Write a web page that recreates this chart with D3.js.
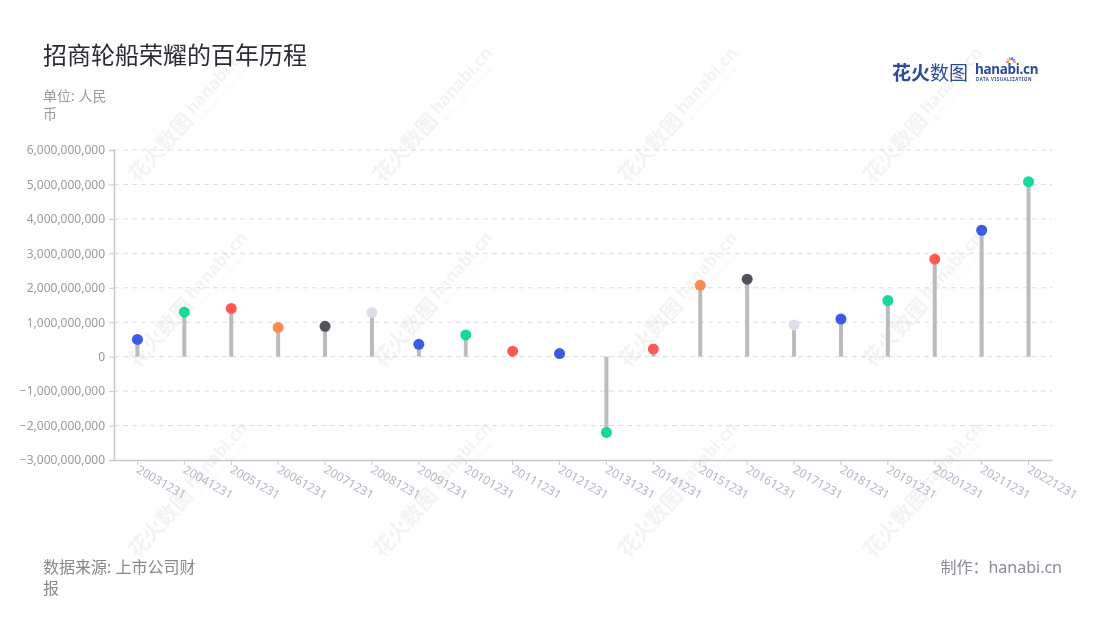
<!DOCTYPE html>
<html><head><meta charset="utf-8">
<script src="https://cdn.jsdelivr.net/npm/d3@7"></script>
<style>
body{margin:0;background:#fff;}
text{font-family:"Noto Sans","Noto Sans CJK SC",sans-serif;}
</style></head>
<body><svg id="chart" width="1100" height="620"></svg>
<script>
const categories = ["20031231","20041231","20051231","20061231","20071231","20081231","20091231","20101231","20111231","20121231","20131231","20141231","20151231","20161231","20171231","20181231","20191231","20201231","20211231","20221231"];
const values = [0.50e9,1.29e9,1.40e9,0.85e9,0.88e9,1.28e9,0.36e9,0.63e9,0.16e9,0.09e9,-2.20e9,0.22e9,2.07e9,2.25e9,0.92e9,1.09e9,1.63e9,2.83e9,3.67e9,5.08e9];
const dotColors = ["#3a5ae8","#14d99b","#ff5a52","#ff8c4f","#51525b","#dcdfe8","#3a5ae8","#14d99b","#ff5a52","#3a5ae8","#14d99b","#ff5a52","#ff8c4f","#51525b","#dcdfe8","#3a5ae8","#14d99b","#ff5a52","#3a5ae8","#14d99b"];
const yTicks = [-3e9,-2e9,-1e9,0,1e9,2e9,3e9,4e9,5e9,6e9];

const svg = d3.select("#chart");
const L = 114, R = 1052, T = 150, B = 460;

// watermarks
const wmX = [180,425,670,915], wmY = [125,310,500];
const wm = svg.append("g").attr("opacity",0.4);
wmY.forEach(cy=>wmX.forEach(cx=>{
  const g = wm.append("g").attr("transform",`translate(${cx},${cy}) rotate(-48)`);
  g.append("text").attr("x",-72).attr("y",8).attr("font-size",21).attr("font-weight",700)
   .attr("font-family","Noto Sans CJK SC").attr("fill","#e2e2e2").text("花火数图");
  g.append("text").attr("x",16).attr("y",3).attr("font-size",17).attr("font-weight",700)
   .attr("fill","#e2e2e2").text("hanabi.cn");
  g.append("text").attr("x",18).attr("y",13).attr("font-size",5).attr("letter-spacing",1)
   .attr("fill","#e2e2e2").text("DATA VISUALIZATION");
}));

const x = d3.scaleBand().domain(categories).range([L,R]).padding(0);
const y = d3.scaleLinear().domain([-3e9,6e9]).range([B,T]);

// grid
svg.append("g").selectAll("line").data(yTicks.filter(t=>t!==-3e9)).join("line")
  .attr("x1",L).attr("x2",R).attr("y1",d=>y(d)).attr("y2",d=>y(d))
  .attr("stroke","#dcdcdc").attr("stroke-dasharray","5,4").attr("stroke-width",1);

// y axis
const yAxis = svg.append("g").attr("transform",`translate(${L},0)`)
  .call(d3.axisLeft(y).tickValues(yTicks).tickSize(5).tickPadding(4).tickFormat(d3.format(",")));
yAxis.select(".domain").attr("stroke","#c8c8c8").attr("stroke-width",1.5);
yAxis.selectAll(".tick line").attr("stroke","#c8c8c8");
yAxis.selectAll(".tick text").attr("fill","#9a9a9a").attr("font-size",12)
  .attr("font-family","Noto Sans, sans-serif");

// x axis
const xAxis = svg.append("g").attr("transform",`translate(0,${B})`)
  .call(d3.axisBottom(x).tickSize(5).tickSizeOuter(0));
xAxis.select(".domain").attr("stroke","#c8c8c8").attr("stroke-width",1.5);
xAxis.selectAll(".tick line").attr("stroke","#c8c8c8");
xAxis.selectAll(".tick text").attr("fill","#b3b7c6").attr("font-size",12)
  .attr("text-anchor","start").attr("dy",0).attr("y",0).attr("x",0)
  .attr("transform","translate(-2,12) rotate(30)");

// stems
svg.append("g").selectAll("line").data(values).join("line")
  .attr("x1",(d,i)=>x(categories[i])+x.bandwidth()/2)
  .attr("x2",(d,i)=>x(categories[i])+x.bandwidth()/2)
  .attr("y1",y(0)).attr("y2",d=>y(d))
  .attr("stroke","#bbbbbb").attr("stroke-width",4);

// dots
svg.append("g").selectAll("circle").data(values).join("circle")
  .attr("cx",(d,i)=>x(categories[i])+x.bandwidth()/2)
  .attr("cy",d=>y(d)).attr("r",5.5)
  .attr("fill",(d,i)=>dotColors[i]);

// title & texts
svg.append("text").attr("x",43).attr("y",64).attr("font-size",24).attr("fill","#2b2b33")
  .attr("font-family","Noto Sans CJK SC").text("招商轮船荣耀的百年历程");
svg.append("text").attr("x",43).attr("y",101).attr("font-size",14).attr("fill","#999")
  .attr("font-family","Noto Sans CJK SC").text("单位: 人民");
svg.append("text").attr("x",43).attr("y",119).attr("font-size",14).attr("fill","#999")
  .attr("font-family","Noto Sans CJK SC").text("币");
svg.append("text").attr("x",43).attr("y",573).attr("font-size",16).attr("fill","#888")
  .attr("font-family","Noto Sans CJK SC").text("数据来源: 上市公司财");
svg.append("text").attr("x",43).attr("y",594).attr("font-size",16).attr("fill","#888")
  .attr("font-family","Noto Sans CJK SC").text("报");
svg.append("text").attr("x",1062).attr("y",573).attr("font-size",16).attr("fill","#8a8a98")
  .attr("text-anchor","end").attr("font-family","Noto Sans CJK SC").text("制作：hanabi.cn");

// logo
const lg = svg.append("g");
lg.append("text").attr("x",892).attr("y",80).attr("font-size",19).attr("font-weight",700)
  .attr("fill","#2c4b9c").attr("font-family","Noto Sans CJK SC").text("花火");
lg.append("text").attr("x",930).attr("y",80).attr("font-size",19).attr("font-weight",400)
  .attr("fill","#2c4b9c").attr("font-family","Noto Sans CJK SC").text("数图");
lg.append("text").attr("x",975).attr("y",74).attr("font-size",13.5).attr("font-weight",700)
  .attr("fill","#2c4b9c").attr("letter-spacing",-0.3).text("hanabi.cn");
lg.append("text").attr("x",976).attr("y",81).attr("font-size",4.3).attr("font-weight",700)
  .attr("fill","#2c4b9c").attr("letter-spacing",0.6).text("DATA VISUALIZATION");
const sparkC = ["#ff5a52","#ffb13b","#14d99b","#3a5ae8","#b05ae8","#ff8c4f"];
sparkC.forEach((c,i)=>{
  const a = -Math.PI + i*Math.PI/5;
  lg.append("line").attr("x1",1011+Math.cos(a)*2).attr("y1",62+Math.sin(a)*2)
    .attr("x2",1011+Math.cos(a)*5).attr("y2",62+Math.sin(a)*5)
    .attr("stroke",c).attr("stroke-width",1.5);
});
</script></body></html>
